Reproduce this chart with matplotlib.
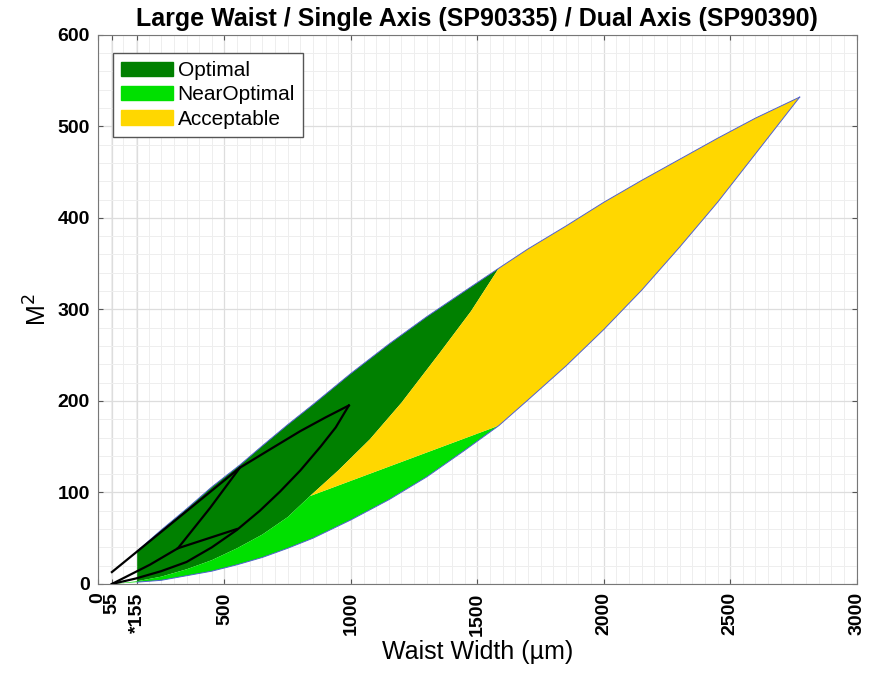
import matplotlib
matplotlib.use('Agg')
import matplotlib.pyplot as plt
from matplotlib.patches import Patch
from matplotlib.ticker import MultipleLocator

plt.rcParams['font.family'] = ['Liberation Sans', 'DejaVu Sans']

# outer envelope (waist um, M^2)
upper_x = [55, 155, 250, 350, 450, 561, 650, 750, 850, 1000, 1150, 1300, 1450, 1585,
           1700, 1850, 2000, 2150, 2300, 2450, 2600, 2775]
upper_m = [13, 36, 59, 82, 106, 130, 151, 174, 196, 230, 262, 292, 320, 345,
           366, 391, 417, 441, 464, 487, 509, 532]
lower_x = [55, 155, 250, 350, 450, 550, 650, 750, 850, 1000, 1150, 1300, 1450, 1585,
           1700, 1850, 2000, 2150, 2300, 2450, 2600, 2775]
lower_m = [0, 2, 4, 9, 14, 21, 29, 39, 50, 70, 92, 117, 146, 173,
           201, 238, 278, 321, 368, 417, 470, 532]

# optimal / near-optimal split
split_x = [155, 250, 350, 450, 550, 650, 750, 838]
split_m = [3, 8, 16, 26, 39, 54, 73, 96]

# acceptable region edges
acc_left_x = [838, 950, 1075, 1200, 1350, 1475, 1585]
acc_left_m = [96, 124, 158, 198, 252, 298, 345]
acc_low_x = [838, 1585]
acc_low_m = [96, 173]

# black outlines (product ranges)
top_x = [55, 561, 680, 800, 900, 992]
top_m = [13, 127, 147, 167, 182, 195]
arc_x = [55, 150, 250, 350, 450, 549, 640, 720, 800, 880, 940, 992]
arc_m = [0, 6, 14, 24, 40, 59, 80, 101, 124, 150, 171, 195]
inner_x = [55, 205, 316, 443, 561]
inner_m = [0, 21, 39, 83, 127]
small_x = [316, 549]
small_m = [39, 60]

tick_pos = [0, 55, 155, 500, 1000, 1500, 2000, 2500, 3000]
tick_lab = ['0', '55', '*155', '500', '1000', '1500', '2000', '2500', '3000']

c_opt = '#008000'
c_near = '#00e000'
c_acc = '#ffd700'


def seg(xs, ys, lo, hi):
    pts = [(x, y) for x, y in zip(xs, ys) if lo <= x <= hi]
    return [p[0] for p in pts], [p[1] for p in pts]


fig = plt.figure(figsize=(8.75, 6.83), dpi=100)
ax = fig.add_axes([0.112, 0.145, 0.867, 0.804])

# optimal
ux, um = seg(upper_x, upper_m, 155, 1585)
px = [155] + ux + acc_left_x[::-1] + split_x[::-1]
pm = [split_m[0]] + um + acc_left_m[::-1] + split_m[::-1]
ax.fill(px, pm, color=c_opt, lw=0, zorder=2)

# near optimal
lx, lm = seg(lower_x, lower_m, 55, 1585)
px = lx + acc_low_x[::-1] + split_x[::-1]
pm = lm + acc_low_m[::-1] + split_m[::-1]
ax.fill(px, pm, color=c_near, lw=0, zorder=2)

# acceptable
lx, lm = seg(lower_x, lower_m, 1585, 2775)
ux, um = seg(upper_x, upper_m, 1585, 2775)
px = acc_low_x + lx + ux[::-1] + acc_left_x[::-1]
pm = acc_low_m + lm + um[::-1] + acc_left_m[::-1]
ax.fill(px, pm, color=c_acc, lw=0, zorder=2)

# thin edge of the envelope
ax.plot(upper_x[1:], upper_m[1:], color='#5060d0', lw=0.7, zorder=3)
ax.plot(lower_x[1:], lower_m[1:], color='#5060d0', lw=0.7, zorder=3)

for xs, ys in [(top_x, top_m), (arc_x, arc_m), (inner_x, inner_m), (small_x, small_m)]:
    ax.plot(xs, ys, color='k', lw=1.6, zorder=4, solid_joinstyle='round')

ax.set_xlim(0, 3000)
ax.set_ylim(0, 600)
ax.set_xticks(tick_pos)
ax.set_xticklabels(tick_lab, rotation=90, fontsize=14, fontweight='bold')
ax.set_yticks(range(0, 601, 100))
ax.tick_params(axis='y', labelsize=14, pad=6)
ax.tick_params(axis='x', pad=6)
for t in ax.get_yticklabels():
    t.set_fontweight('bold')
ax.xaxis.set_minor_locator(MultipleLocator(50))
ax.yaxis.set_minor_locator(MultipleLocator(20))
ax.tick_params(which='both', direction='in', top=True, right=True, color='#555555')
ax.tick_params(which='minor', length=0)
ax.grid(which='major', color='#dddddd', lw=0.9, zorder=0)
ax.grid(which='minor', color='#eeeeee', lw=0.7, zorder=0)
ax.set_axisbelow(True)
for s in ax.spines.values():
    s.set_color('#777777')

ax.set_xlabel('Waist Width (\u00b5m)', fontsize=18, labelpad=3)
ax.set_ylabel('M$^2$', fontsize=18, labelpad=4)
ax.set_title('Large Waist / Single Axis (SP90335) / Dual Axis (SP90390)',
             fontsize=18, fontweight='bold', pad=6)

handles = [Patch(color=c_opt), Patch(color=c_near), Patch(color=c_acc)]
leg = ax.legend(handles, ['Optimal', 'NearOptimal', 'Acceptable'], loc='upper left',
                fontsize=15, fancybox=False, framealpha=1, edgecolor='#555555',
                handlelength=2.5, handleheight=0.7, handletextpad=0.2,
                borderpad=0.4, labelspacing=0.25, borderaxespad=0,
                bbox_to_anchor=(0.0198, 0.967))
leg.get_frame().set_linewidth(1.0)

fig.savefig('out.png', dpi=100)
